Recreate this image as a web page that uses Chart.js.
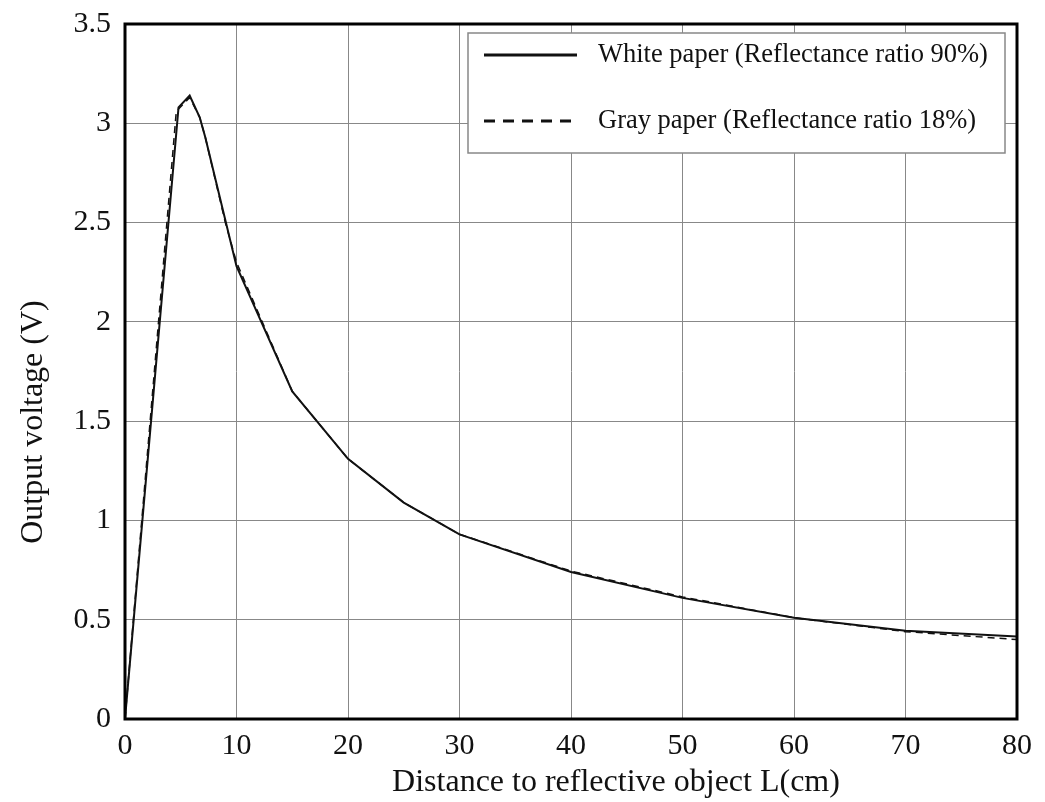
<!DOCTYPE html>
<html>
<head>
<meta charset="utf-8">
<script src="https://cdn.jsdelivr.net/npm/chart.js@4"></script>
<style>
  html, body { margin: 0; padding: 0; background: #fff; }
  #wrap { width: 1045px; height: 802px; }
</style>
</head>
<body>
<div id="wrap"><canvas id="grafico"></canvas></div>
<script>
// distance L (cm) and output voltage (V)
const distWhite = [0, 4.8, 5.8, 6.7, 7.2, 10, 15, 20, 25, 30, 40, 50, 60, 70, 80];
const voltWhite = [0, 3.08, 3.14, 3.03, 2.93, 2.28, 1.65, 1.31, 1.09, 0.93, 0.74, 0.61, 0.51, 0.445, 0.415];
const distGray = [0, 4.6, 5.8, 6.7, 7.2, 9, 10, 15, 20, 25, 30, 40, 50, 60, 70, 80];
const voltGray = [0, 3.06, 3.13, 3.03, 2.93, 2.5, 2.3, 1.65, 1.31, 1.09, 0.93, 0.745, 0.615, 0.51, 0.44, 0.40];
const legendas = ["White paper (Reflectance ratio 90%)", "Gray paper (Reflectance ratio 18%)"];
const tituloX = "Distance to reflective object L(cm)";
const tituloY = "Output voltage (V)";

const fonte = "'Liberation Serif', 'Times New Roman', serif";

function juntaPontos(xs, ys) {
    return xs.map((x, i) => ({ x: x, y: ys[i] }));
}

// frame, axis titles and legend box drawn on top of the plot
const molduraPlugin = {
    id: "moldura",
    afterDraw(chart) {
        const ctx = chart.ctx;
        const a = chart.chartArea;
        ctx.save();
        ctx.strokeStyle = "#000";
        ctx.lineWidth = 3;
        ctx.strokeRect(a.left, a.top, a.right - a.left, a.bottom - a.top);

        // axis titles (the original sits a bit off-centre)
        ctx.fillStyle = "#111";
        ctx.font = "32px " + fonte;
        ctx.textAlign = "center";
        ctx.textBaseline = "middle";
        ctx.fillText(tituloX, 616, 783);
        ctx.save();
        ctx.translate(34, 422);
        ctx.rotate(-Math.PI / 2);
        ctx.fillText(tituloY, 0, 0);
        ctx.restore();

        // legend
        const bx = 468, by = 33, bw = 537, bh = 120;
        ctx.fillStyle = "#fff";
        ctx.fillRect(bx, by, bw, bh);
        ctx.strokeStyle = "#888";
        ctx.lineWidth = 1.5;
        ctx.strokeRect(bx, by, bw, bh);

        const linhasY = [55, 121];
        chart.data.datasets.forEach((ds, i) => {
            const y = linhasY[i];
            ctx.strokeStyle = "#111";
            ctx.lineWidth = 3;
            ctx.setLineDash(ds.borderDash ? [11, 8] : []);
            ctx.beginPath();
            ctx.moveTo(484, y);
            ctx.lineTo(577, y);
            ctx.stroke();
            ctx.setLineDash([]);
            ctx.fillStyle = "#111";
            ctx.font = "26.5px " + fonte;
            ctx.textBaseline = "middle";
            ctx.textAlign = "left";
            ctx.fillText(ds.label, 598, y);
        });
        ctx.restore();
    }
};

const grafico = new Chart(document.getElementById("grafico"), {
    type: "line",
    data: {
        datasets: [{
            label: legendas[0],
            data: juntaPontos(distWhite, voltWhite),
            borderColor: "#111",
            borderWidth: 2,
            pointRadius: 0,
            tension: 0
        }, {
            label: legendas[1],
            data: juntaPontos(distGray, voltGray),
            borderColor: "#111",
            borderWidth: 1.5,
            borderDash: [7, 5],
            pointRadius: 0,
            tension: 0
        }]
    },
    options: {
        responsive: true,
        maintainAspectRatio: false,
        animation: false,
        layout: { padding: { top: 24, right: 28, left: 0, bottom: 0 } },
        plugins: {
            legend: { display: false },
            tooltip: { enabled: false }
        },
        scales: {
            x: {
                type: "linear",
                min: 0,
                max: 80,
                ticks: {
                    stepSize: 10,
                    color: "#111",
                    padding: 9,
                    font: { family: fonte, size: 30 }
                },
                grid: { color: "#888", lineWidth: 1, drawTicks: false },
                border: { display: false },
                afterFit(scale) {
                    scale.height = 83;
                    scale.paddingRight = 0;
                }
            },
            y: {
                min: 0,
                max: 3.5,
                ticks: {
                    stepSize: 0.5,
                    color: "#111",
                    padding: 14,
                    font: { family: fonte, size: 30 },
                    callback: v => String(v)
                },
                grid: { color: "#888", lineWidth: 1, drawTicks: false },
                border: { display: false },
                afterFit(scale) {
                    scale.width = 125;
                    scale.paddingTop = 0;
                }
            }
        }
    },
    plugins: [molduraPlugin]
});
</script>
</body>
</html>
